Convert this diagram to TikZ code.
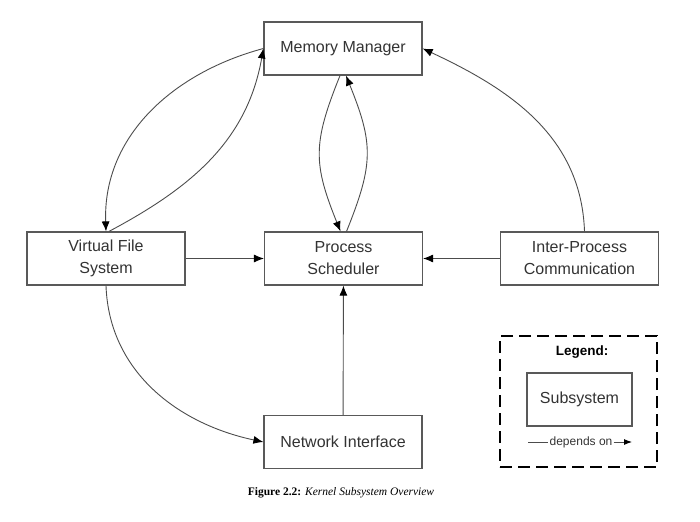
\documentclass[tikz,border=0pt]{standalone}
\usepackage{fontspec}
\setmainfont{Liberation Serif}
\setsansfont{Liberation Sans}
\usepackage{tikz}
\usetikzlibrary{arrows.meta}
\usetikzlibrary{positioning}
\tikzset{
    subsystem/.style={draw=black!65, line width=1.2pt, fill=white, text=black!80,
        minimum width=158pt, minimum height=53pt, inner sep=0pt, align=center,
        font=\sffamily\fontsize{16}{22}\selectfont},
    depends/.style={draw=black!70, line width=0.9pt,
        -{Latex[length=10pt,width=8pt,black]}},
    legendbox/.style={draw=black, line width=2.6pt, dash pattern=on 12pt off 6pt},
}
\begin{document}
\begin{tikzpicture}[x=1pt, y=1pt]
	\useasboundingbox (0,0) rectangle (700,-521);
	\node[subsystem] (mm) at (343,-48.5) {Memory Manager};
	\node[subsystem] (vfs) at (106,-258.5) {Virtual File\\System};
	\node[subsystem] (ps) at (343.5,-258.5) {Process\\Scheduler};
	\node[subsystem] (ipc) at (579.5,-258.5) {Inter-Process\\Communication};
	\node[subsystem] (ni) at (343,-442) {Network Interface};
	\draw[depends] (mm.west) to[out=195, in=92] (vfs.north);
	\draw[depends] ([xshift=3pt]vfs.north) to[out=28, in=-100] (mm.west);
	\draw[depends] ([xshift=-3pt]mm.south) to[out=-112, in=112, looseness=1.2] ([xshift=-3pt]ps.north);
	\draw[depends] ([xshift=3pt]ps.north) to[out=68, in=-68, looseness=1.2] ([xshift=3pt]mm.south);
	\draw[depends] ([xshift=5pt]ipc.north) to[out=92, in=-25] (mm.east);
	\draw[depends] (vfs) -- (ps);
	\draw[depends] (ipc) -- (ps);
	\draw[depends] (ni) -- (ps);
	\draw[depends] (vfs.south) to[out=-88, in=168] (ni.west);
	% legend
	\node[legendbox, minimum width=157pt, minimum height=131pt, inner sep=0pt] (legend) at (578.5,-401.5) {};
	\node[font=\sffamily\bfseries\fontsize{13.5}{16}\selectfont] (legendtitle) at (582,-352) {Legend:};
	\node[subsystem, minimum width=105pt] (legendsub) at (579.5,-399.5) {Subsystem};
	\node[font=\sffamily\fontsize{12}{14}\selectfont, text=black!80, inner sep=1pt] (legenddep) at (581,-442) {depends on};
	\coordinate (legendl) at (528,-442);
	\coordinate (legendr) at (632,-442);
	\draw[draw=black!70, line width=0.9pt] (legendl) -- (legenddep.west);
	\draw[draw=black!70, line width=0.9pt, -{Latex[length=8pt,width=6pt,black]}] (legenddep.east) -- (legendr);
	% caption
	\node[font=\fontsize{11.5}{14}\selectfont] (caption) at (341,-493) {\textbf{Figure 2.2:} \textit{Kernel Subsystem Overview}};
\end{tikzpicture}
\end{document}
